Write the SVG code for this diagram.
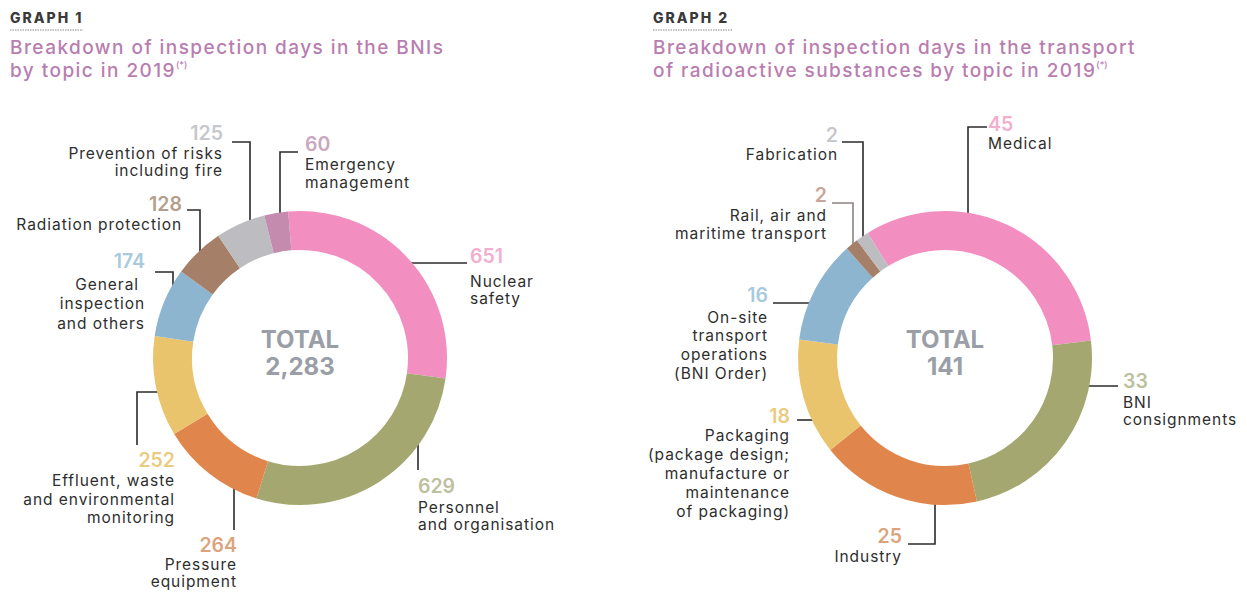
<svg xmlns="http://www.w3.org/2000/svg" width="1247" height="594" viewBox="0 0 1247 594">
<style>
text{font-family:Inter,"Liberation Sans",sans-serif}
.glab{font-size:14px;font-weight:800;fill:#3a3a3a;letter-spacing:2px}
.gline{stroke:#8a8a8a;stroke-width:1;stroke-dasharray:1.5 1}
.title{font-size:19px;font-weight:500;fill:#B97DB0;letter-spacing:1.45px}
.sup{font-size:9px;font-weight:500;fill:#B97DB0;letter-spacing:0}
.num{font-size:19.5px;font-weight:600}
.lbl{font-size:15.5px;font-weight:400;fill:#2e2e2e;letter-spacing:0.95px}
.end{text-anchor:end}
.total{font-size:24px;font-weight:700;fill:#9a9ea6;text-anchor:middle}
.leader{fill:none;stroke:#2b2b2b;stroke-width:1.6}
.seg{fill:none;stroke-width:39}
</style>
<rect width="1247" height="594" fill="#ffffff"/>

<g id="header1">
<text class="glab" x="10" y="23">GRAPH 1</text>
<line class="gline" x1="10" y1="30" x2="83" y2="30"/>
<text class="title" x="10" y="54">Breakdown of inspection days in the BNIs</text>
<text class="title" x="10" y="77">by topic in 2019<tspan class="sup" dy="-9">(*)</tspan></text>
</g>
<g id="header2">
<text class="glab" x="653" y="23">GRAPH 2</text>
<line class="gline" x1="653" y1="30" x2="732" y2="30"/>
<text class="title" x="653" y="54">Breakdown of inspection days in the transport</text>
<text class="title" x="653" y="77">of radioactive substances by topic in 2019<tspan class="sup" dy="-9">(*)</tspan></text>
</g>

<g id="connectors">
<polyline class="leader" points="400,263 467,263"/>
<polyline class="leader" points="418,423 418,470"/>
<polyline class="leader" points="234,470 234,530"/>
<polyline class="leader" points="173,392 137,392 137,445"/>
<polyline class="leader" points="155,272 173,272 173,317"/>
<polyline class="leader" points="187,210 200,210 200,262"/>
<polyline class="leader" points="232,142 250,142 250,232"/>
<polyline class="leader" points="298,152 280,152 280,223"/>

<polyline class="leader" points="987,127 968,127 968,223"/>
<polyline class="leader" points="1073,386 1118,386"/>
<polyline class="leader" points="908,544 935,544 935,493"/>
<polyline class="leader" points="797,420 823,420"/>
<polyline class="leader" points="773,303 823,303"/>
<polyline class="leader" points="832,203 853,203 853,247" style="stroke:#8a8380"/>
<polyline class="leader" points="842,142 863,142 863,248"/>
</g>

<!-- Graph 1 -->
<g id="g1-nuclear">
<path class="seg" stroke="#F28FC0" d="M289.77,230.91 A127.5,127.5 0 0 1 426.24,375.88"/>
<text class="num" x="470" y="263" fill="#F3AECF">651</text>
<text class="lbl" x="470" y="287">Nuclear</text>
<text class="lbl" x="470" y="304">safety</text>
</g>
<g id="g1-personnel">
<path class="seg" stroke="#A4A870" d="M426.24,375.88 A127.5,127.5 0 0 1 262.21,479.77"/>
<text class="num" x="418" y="493" fill="#BDC09D">629</text>
<text class="lbl" x="418" y="513">Personnel</text>
<text class="lbl" x="418" y="530">and organisation</text>
</g>
<g id="g1-pressure">
<path class="seg" stroke="#E0864C" d="M262.21,479.77 A127.5,127.5 0 0 1 190.86,423.91"/>
<text class="num end" x="237" y="552" fill="#DCA47E">264</text>
<text class="lbl end" x="237" y="570">Pressure</text>
<text class="lbl end" x="237" y="587">equipment</text>
</g>
<g id="g1-effluent">
<path class="seg" stroke="#E9C46C" d="M190.86,423.91 A127.5,127.5 0 0 1 173.94,338.91"/>
<text class="num end" x="175" y="467" fill="#EACB80">252</text>
<text class="lbl end" x="175" y="486">Effluent, waste</text>
<text class="lbl end" x="175" y="505">and environmental</text>
<text class="lbl end" x="175" y="523">monitoring</text>
</g>
<g id="g1-general">
<path class="seg" stroke="#8DB5D0" d="M173.94,338.91 A127.5,127.5 0 0 1 196.92,282.96"/>
<text class="num end" x="145" y="268" fill="#A9C9DC">174</text>
<text class="lbl end" x="139" y="290">General</text>
<text class="lbl end" x="145" y="309">inspection</text>
<text class="lbl end" x="145" y="329">and others</text>
</g>
<g id="g1-radiation">
<path class="seg" stroke="#A67F69" d="M196.92,282.96 A127.5,127.5 0 0 1 229.13,252.01"/>
<text class="num end" x="182" y="211" fill="#B59E8C">128</text>
<text class="lbl end" x="182" y="230">Radiation protection</text>
</g>
<g id="g1-prevention">
<path class="seg" stroke="#BDBDC1" d="M229.13,252.01 A127.5,127.5 0 0 1 269.03,234.32"/>
<text class="num end" x="223" y="140" fill="#C6C7CB">125</text>
<text class="lbl end" x="223" y="159">Prevention of risks</text>
<text class="lbl end" x="223" y="176">including fire</text>
</g>
<g id="g1-emergency">
<path class="seg" stroke="#C58BAF" d="M269.03,234.32 A127.5,127.5 0 0 1 289.77,230.91"/>
<text class="num" x="305" y="151" fill="#CBA6BF">60</text>
<text class="lbl" x="305" y="170">Emergency</text>
<text class="lbl" x="305" y="188">management</text>
</g>
<g id="g1-total">
<text class="total" x="300" y="348">TOTAL</text>
<text class="total" x="300" y="375">2,283</text>
</g>

<!-- Graph 2 -->
<g id="g2-medical">
<path class="seg" stroke="#F28FC0" d="M878.00,249.52 A127.5,127.5 0 0 1 1071.60,342.88"/>
<text class="num" x="988" y="131" fill="#F3AECF">45</text>
<text class="lbl" x="988" y="149">Medical</text>
</g>
<g id="g2-bni">
<path class="seg" stroke="#A4A870" d="M1071.60,342.88 A127.5,127.5 0 0 1 972.70,482.45"/>
<text class="num" x="1123" y="388" fill="#BDC09D">33</text>
<text class="lbl" x="1123" y="408">BNI</text>
<text class="lbl" x="1123" y="425">consignments</text>
</g>
<g id="g2-industry">
<path class="seg" stroke="#E0864C" d="M972.70,482.45 A127.5,127.5 0 0 1 845.52,437.75"/>
<text class="num end" x="902" y="543" fill="#DCA47E">25</text>
<text class="lbl end" x="902" y="562">Industry</text>
</g>
<g id="g2-packaging">
<path class="seg" stroke="#E9C46C" d="M845.52,437.75 A127.5,127.5 0 0 1 818.52,341.93"/>
<text class="num end" x="790" y="423" fill="#EACB80">18</text>
<text class="lbl end" x="790" y="441">Packaging</text>
<text class="lbl end" x="790" y="460">(package design;</text>
<text class="lbl end" x="790" y="479">manufacture or</text>
<text class="lbl end" x="790" y="498">maintenance</text>
<text class="lbl end" x="790" y="517">of packaging)</text>
</g>
<g id="g2-onsite">
<path class="seg" stroke="#8DB5D0" d="M818.52,341.93 A127.5,127.5 0 0 1 859.84,263.11"/>
<text class="num end" x="768" y="302" fill="#A9C9DC">16</text>
<text class="lbl end" x="768" y="323">On-site</text>
<text class="lbl end" x="768" y="341">transport</text>
<text class="lbl end" x="768" y="360">operations</text>
<text class="lbl end" x="768" y="379">(BNI Order)</text>
</g>
<g id="g2-rail">
<path class="seg" stroke="#A67F69" d="M859.84,263.11 A127.5,127.5 0 0 1 868.63,255.91"/>
<text class="num end" x="827" y="202" fill="#C9A597">2</text>
<text class="lbl end" x="827" y="221">Rail, air and</text>
<text class="lbl end" x="827" y="239">maritime transport</text>
</g>
<g id="g2-fabrication">
<path class="seg" stroke="#BDBDC1" d="M868.63,255.91 A127.5,127.5 0 0 1 878.00,249.52"/>
<text class="num end" x="838" y="142" fill="#C6C7CB">2</text>
<text class="lbl end" x="838" y="160">Fabrication</text>
</g>
<g id="g2-total">
<text class="total" x="945" y="348">TOTAL</text>
<text class="total" x="945" y="375">141</text>
</g>
</svg>
